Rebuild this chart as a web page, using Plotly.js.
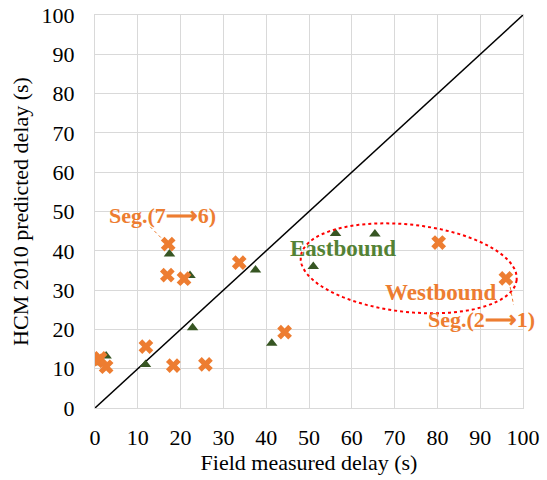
<!DOCTYPE html>
<html><head><meta charset="utf-8">
<script src="https://cdn.plot.ly/plotly-3.0.1.min.js"></script>
<style>html,body{margin:0;padding:0;background:#fff;}#chart{width:547px;height:480px;}</style>
</head><body><div id="chart"></div>
<script>
// Eastbound (green triangles)
const eastX = [0.3, 2.6, 11.8, 17.4, 22.2, 22.8, 37.5, 41.3, 51.0, 56.2, 65.4];
const eastY = [11.5, 13.2, 11.1, 39.2, 33.7, 20.4, 35.1, 16.5, 36.0, 44.4, 44.3];
// Westbound (orange crosses)
const westX = [0.5, 1.2, 2.6, 11.9, 16.9, 17.1, 18.3, 20.8, 25.8, 33.7, 44.3, 80.3, 96.0];
const westY = [12.0, 12.6, 10.5, 15.6, 33.8, 41.7, 10.8, 32.9, 11.1, 37.0, 19.3, 42.1, 33.0];
// 1:1 reference line
const diagX = [0, 100];
const diagY = [0, 100];
const tickVals = [0,10,20,30,40,50,60,70,80,90,100];

const FONT = "Liberation Serif, Times New Roman, serif";
const ORANGE = "#ED7D31";
const GREEN = "#375623";

// plot area geometry (px) used to build the tilted dotted ellipse
const L = 95, T = 15, W = 428, H = 393;
function toData(px, py){ return [ (px - L) / W * 100, (T + H - py) / H * 100 ]; }
function ellipsePath(cx, cy, a, b, angDeg){
  const th = angDeg * Math.PI / 180; let d = "";
  for (let i = 0; i <= 72; i++){
    const t = i / 72 * 2 * Math.PI;
    const px = cx + a*Math.cos(t)*Math.cos(th) - b*Math.sin(t)*Math.sin(th);
    const py = cy + a*Math.cos(t)*Math.sin(th) + b*Math.sin(t)*Math.cos(th);
    const p = toData(px, py);
    d += (i === 0 ? "M" : "L") + p[0].toFixed(3) + "," + p[1].toFixed(3);
  }
  return d + "Z";
}

const traces = [
  {x: diagX, y: diagY, mode: "lines", line: {color: "#000", width: 1.5}, hoverinfo: "skip", showlegend: false},
  {x: eastX, y: eastY, mode: "markers", name: "Eastbound",
   marker: {symbol: "triangle-up", size: 10, color: GREEN}, showlegend: false},
  {x: westX, y: westY, mode: "markers", name: "Westbound",
   marker: {symbol: "x", size: 13, color: ORANGE, line: {width: 0}}, showlegend: false}
];

const axisCommon = {
  range: [0, 100], tickvals: tickVals, showgrid: true, gridcolor: "#d9d9d9", gridwidth: 1,
  zeroline: false, showline: true, linecolor: "#d9d9d9", linewidth: 1, mirror: true,
  ticks: "outside", tickcolor: "rgba(0,0,0,0)",
  tickfont: {family: FONT, size: 22, color: "#000"}, fixedrange: true
};

const layout = {
  width: 547, height: 480,
  margin: {l: L, r: 547 - L - W, t: T, b: 480 - T - H},
  paper_bgcolor: "#fff", plot_bgcolor: "#fff",
  showlegend: false,
  xaxis: Object.assign({}, axisCommon, {ticklen: 10,
    title: {text: "Field measured delay (s)", font: {family: FONT, size: 22, color: "#000"}, standoff: 3}}),
  yaxis: Object.assign({}, axisCommon, {ticklen: 15,
    title: {text: "HCM 2010 predicted delay (s)", font: {family: FONT, size: 22, color: "#000"}, standoff: 6}}),
  shapes: [
    {type: "path", path: ellipsePath(408.7, 268.3, 108.6, 43.7, 6.2), xref: "x", yref: "y",
     line: {color: "#FF0000", width: 2, dash: "dot"}, fillcolor: "rgba(0,0,0,0)"},
    {type: "line", xref: "x", yref: "y", x0: 12.9, y0: 46.1, x1: 16.0, y1: 42.7,
     line: {color: ORANGE, width: 1, dash: "dot"}},
    {type: "line", xref: "x", yref: "y", x0: 97.0, y0: 30.8, x1: 97.8, y1: 26.2,
     line: {color: ORANGE, width: 1, dash: "dot"}}
  ],
  annotations: [
    {x: 15.7, y: 49.1, xref: "x", yref: "y", text: "<b>Seg.(7⟶6)</b>", showarrow: false,
     font: {family: FONT, size: 22, color: ORANGE}},
    {x: 57.9, y: 40.5, xref: "x", yref: "y", text: "<b>Eastbound</b>", showarrow: false,
     font: {family: FONT, size: 23, color: "#548235"}},
    {x: 80.8, y: 29.5, xref: "x", yref: "y", text: "<b>Westbound</b>", showarrow: false,
     font: {family: FONT, size: 23, color: ORANGE}},
    {x: 90.2, y: 22.6, xref: "x", yref: "y", text: "<b>Seg.(2⟶1)</b>", showarrow: false,
     font: {family: FONT, size: 22, color: ORANGE}}
  ]
};

Plotly.newPlot("chart", traces, layout, {displayModeBar: false, staticPlot: true});
</script>
</body></html>
